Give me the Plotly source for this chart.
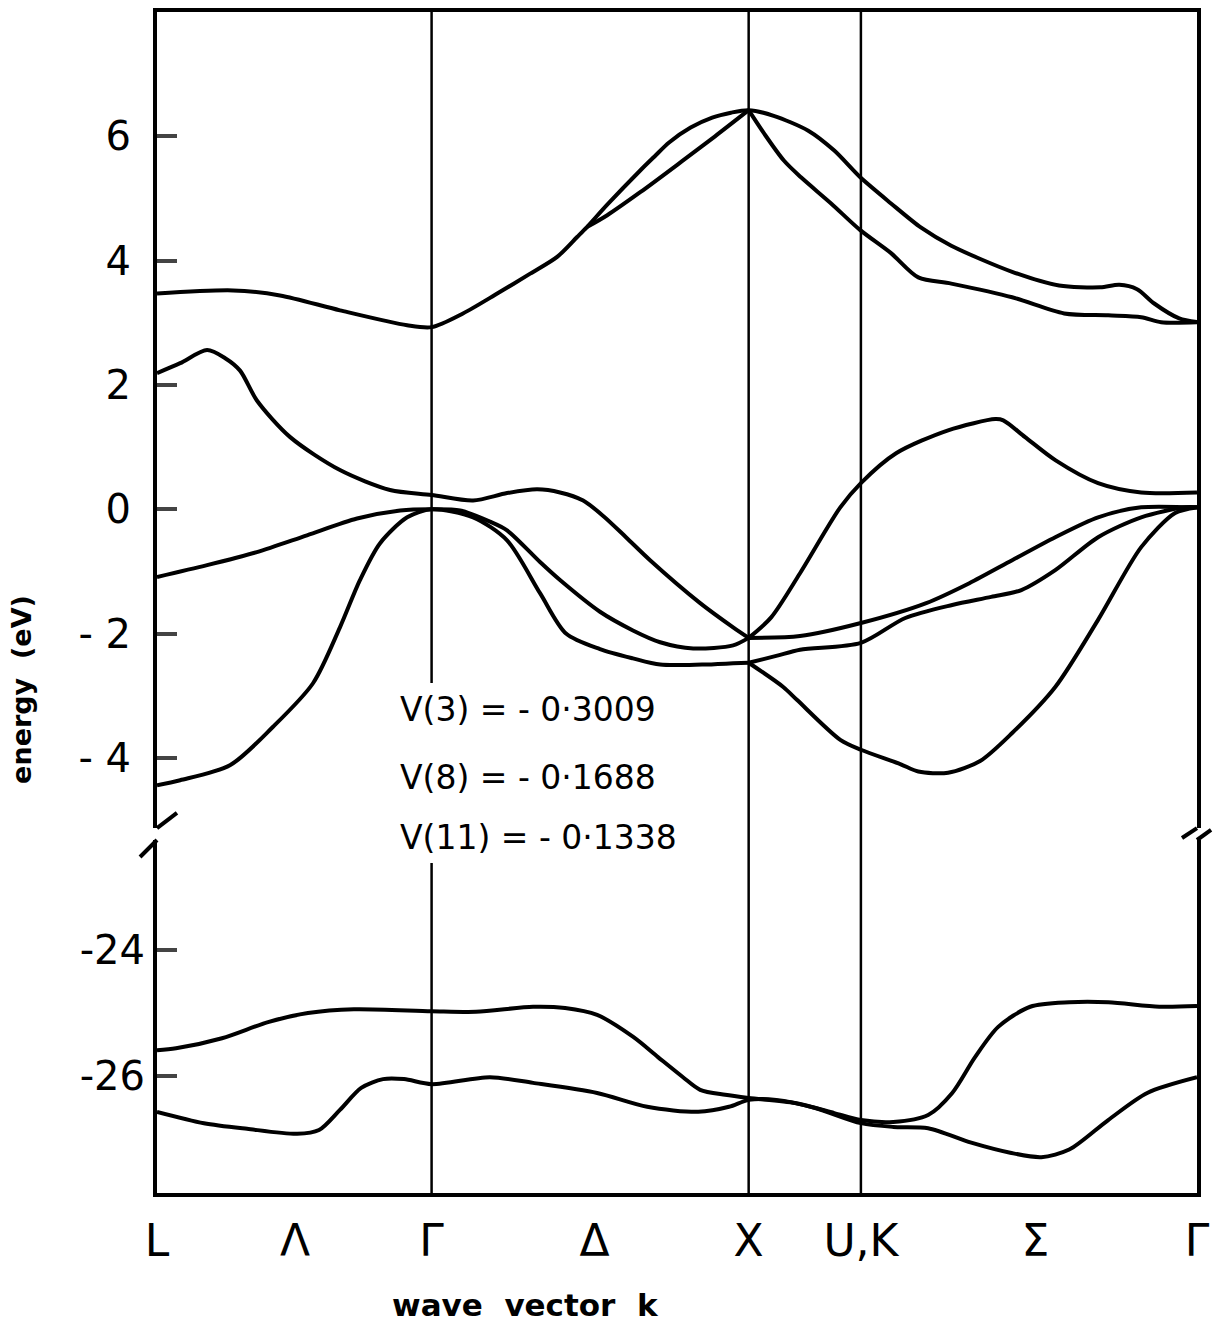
import plotly.graph_objects as go

# k positions along L - Gamma - X - U,K - Gamma (units of 2*pi/a)
sym_k = [0.0, 0.435, 0.866, 1.38, 1.866, 2.220, 2.77, 3.280]
sym_labels = ["L", "Λ", "Γ", "Δ", "X", "U,K", "Σ", "Γ"]
vline_k = [0.866, 1.866, 2.220]
X_K = 1.866

# upper panel: valence + conduction bands (eV)
c1_k = [0, 0.240, 0.388, 0.577, 0.789, 0.866, 0.965, 1.073, 1.177, 1.262, 1.325, 1.356,
        1.420, 1.524, 1.570, 1.615, 1.683, 1.751, 1.810, 1.866, 1.945, 2.054, 2.136,
        2.218, 2.315, 2.410, 2.505, 2.697, 2.845, 2.975, 3.035, 3.091, 3.145, 3.224, 3.280]
c1_e = [3.47, 3.52, 3.44, 3.20, 2.96, 2.93, 3.15, 3.47, 3.79, 4.06, 4.38, 4.54,
        4.90, 5.45, 5.68, 5.90, 6.14, 6.30, 6.38, 6.42, 6.33, 6.09, 5.77,
        5.34, 4.92, 4.53, 4.24, 3.82, 3.60, 3.57, 3.61, 3.54, 3.31, 3.07, 3.01]

c2_k = [1.356, 1.420, 1.524, 1.656, 1.760, 1.866, 1.914, 1.977, 2.031, 2.126, 2.218,
        2.315, 2.401, 2.505, 2.697, 2.861, 3.000, 3.104, 3.167, 3.280]
c2_e = [4.54, 4.73, 5.10, 5.60, 6.00, 6.42, 6.05, 5.61, 5.34, 4.92, 4.49,
        4.12, 3.73, 3.63, 3.41, 3.15, 3.12, 3.09, 3.01, 3.01]

c3_k = [0, 0.073, 0.158, 0.215, 0.262, 0.315, 0.420, 0.577, 0.735, 0.866, 0.997, 1.104,
        1.199, 1.271, 1.344, 1.410, 1.479, 1.555, 1.713, 1.817, 1.866, 1.937, 2.028,
        2.155, 2.220, 2.331, 2.495, 2.644, 2.669, 2.738, 2.833, 2.968, 3.104, 3.280]
c3_e = [2.19, 2.35, 2.56, 2.43, 2.23, 1.75, 1.16, 0.63, 0.31, 0.23, 0.14, 0.26,
        0.32, 0.27, 0.14, -0.12, -0.45, -0.82, -1.51, -1.90, -2.07, -1.74, -1.03,
        0.03, 0.42, 0.90, 1.27, 1.45, 1.43, 1.16, 0.79, 0.42, 0.27, 0.27]

v1_k = [0, 0.158, 0.315, 0.473, 0.631, 0.767, 0.866, 0.956, 1.050, 1.104, 1.208, 1.271,
        1.397, 1.501, 1.587, 1.691, 1.817, 1.866, 2.028, 2.220, 2.426, 2.562,
        2.697, 2.833, 2.968, 3.104, 3.265, 3.280]
v1_e = [-1.09, -0.90, -0.69, -0.42, -0.15, -0.02, 0.0, -0.02, -0.20, -0.34, -0.85, -1.14,
        -1.65, -1.95, -2.14, -2.24, -2.19, -2.07, -2.04, -1.83, -1.51, -1.19,
        -0.82, -0.45, -0.13, 0.03, 0.03, 0.03]

v2_k = [0, 0.073, 0.230, 0.366, 0.492, 0.577, 0.640, 0.703, 0.789, 0.866, 0.997, 1.104,
        1.208, 1.290, 1.397, 1.501, 1.587, 1.719, 1.817, 1.866, 1.953, 2.028, 2.220,
        2.360, 2.508, 2.631, 2.726, 2.833, 2.968, 3.104, 3.240, 3.280]
v2_e = [-4.44, -4.36, -4.12, -3.50, -2.80, -1.90, -1.14, -0.55, -0.13, 0.0, -0.13, -0.50,
        -1.35, -2.00, -2.25, -2.40, -2.50, -2.50, -2.48, -2.47, -2.36, -2.26, -2.15,
        -1.75, -1.54, -1.41, -1.30, -0.98, -0.45, -0.13, 0.03, 0.03]

v3_k = [1.866, 1.975, 2.019, 2.155, 2.220, 2.344, 2.401, 2.495, 2.596, 2.697, 2.833,
        2.968, 3.104, 3.211, 3.280]
v3_e = [-2.47, -2.86, -3.07, -3.71, -3.87, -4.10, -4.22, -4.24, -4.05, -3.60, -2.86,
        -1.78, -0.61, -0.06, 0.03]

# lower panel: deep bands (eV)
d1_k = [0, 0.060, 0.205, 0.353, 0.476, 0.621, 0.866, 1.006, 1.186, 1.287, 1.388, 1.502,
        1.580, 1.659, 1.713, 1.792, 1.866, 2.013, 2.136, 2.220, 2.322, 2.432, 2.508,
        2.580, 2.653, 2.754, 2.877, 3.000, 3.161, 3.280]
d1_e = [-25.59, -25.56, -25.40, -25.14, -25.00, -24.94, -24.97, -24.98, -24.90, -24.92,
        -25.03, -25.38, -25.70, -26.02, -26.22, -26.30, -26.35, -26.43, -26.59, -26.70,
        -26.73, -26.62, -26.27, -25.70, -25.22, -24.90, -24.83, -24.83, -24.90, -24.89]

d2_k = [0, 0.148, 0.284, 0.442, 0.511, 0.577, 0.644, 0.713, 0.779, 0.866, 1.050, 1.186,
        1.388, 1.546, 1.707, 1.804, 1.866, 1.953, 2.076, 2.220, 2.322, 2.432, 2.568,
        2.691, 2.789, 2.877, 3.000, 3.123, 3.280]
d2_e = [-26.57, -26.75, -26.84, -26.92, -26.86, -26.54, -26.19, -26.05, -26.05, -26.13,
        -26.02, -26.11, -26.27, -26.49, -26.57, -26.49, -26.38, -26.38, -26.51, -26.75,
        -26.81, -26.83, -27.06, -27.22, -27.29, -27.17, -26.70, -26.27, -26.02]

upper_ticks = [-4, -2, 0, 2, 4, 6]
upper_ticktext = ["- 4", "- 2", "0", "2", "4", "6"]
lower_ticks = [-26, -24]
lower_ticktext = ["-26", "-24"]

pot_text = ["V(3) = - 0·3009", "V(8) = - 0·1688", "V(11) = - 0·1338"]

FONT = "DejaVu Sans"


def band(fig, k, e, upper, cusp=None):
    # a cusp point splits the curve so the spline keeps the sharp corner
    pieces = [(k, e)]
    if cusp is not None and cusp in k:
        i = k.index(cusp)
        pieces = [(k[:i + 1], e[:i + 1]), (k[i:], e[i:])]
    for pk, pe in pieces:
        fig.add_trace(go.Scatter(
            x=pk, y=pe, mode="lines",
            xaxis="x2" if upper else "x", yaxis="y2" if upper else "y",
            line=dict(color="black", width=4, shape="spline", smoothing=0.8),
            hoverinfo="skip", showlegend=False,
        ))


def main():
    fig = go.Figure()
    band(fig, c1_k, c1_e, True)
    band(fig, c2_k, c2_e, True, X_K)
    band(fig, c3_k, c3_e, True, X_K)
    band(fig, v1_k, v1_e, True, X_K)
    band(fig, v2_k, v2_e, True, X_K)
    band(fig, v3_k, v3_e, True)
    band(fig, d1_k, d1_e, False)
    band(fig, d2_k, d2_e, False)

    frame = dict(showline=True, linecolor="black", linewidth=4, showgrid=False,
                 zeroline=False, automargin=False)
    fig.update_layout(
        width=1213, height=1344,
        margin=dict(l=157, r=16, t=12, b=151),
        paper_bgcolor="white", plot_bgcolor="white",
        font=dict(family=FONT, color="black"),
        xaxis=dict(**frame, anchor="y", domain=[0, 1], range=[0, 3.280],
                   tickmode="array", tickvals=sym_k, ticktext=sym_labels,
                   ticks="", ticklabelstandoff=6, tickfont=dict(size=44)),
        xaxis2=dict(**frame, anchor="y2", matches="x", side="top",
                    showticklabels=False, ticks=""),
        yaxis=dict(**frame, mirror=True, anchor="x", domain=[0, 0.2989],
                   range=[-27.86, -22.25], tickmode="array", tickvals=lower_ticks,
                   ticktext=lower_ticktext, ticks="inside", ticklen=20, tickwidth=4,
                   ticklabelstandoff=0, tickfont=dict(size=40)),
        yaxis2=dict(**frame, mirror=True, anchor="x2", domain=[0.309, 1],
                    range=[-5.13, 8.0], tickmode="array", tickvals=upper_ticks,
                    ticktext=upper_ticktext, ticks="inside", ticklen=20, tickwidth=4,
                    ticklabelstandoff=14, tickfont=dict(size=40)),
    )

    # vertical symmetry lines (Gamma interrupted by the potential text)
    vl = dict(type="line", xref="x", yref="paper", layer="below",
              line=dict(color="black", width=2.5))
    fig.add_shape(**vl, x0=vline_k[0], x1=vline_k[0], y0=0, y1=0.2794)
    fig.add_shape(**vl, x0=vline_k[0], x1=vline_k[0], y0=0.4318, y1=1)
    for k in vline_k[1:]:
        fig.add_shape(**vl, x0=k, x1=k, y0=0, y1=1)

    # axis break marks
    bm = dict(type="line", xref="paper", yref="paper", line=dict(color="black", width=4))
    fig.add_shape(**bm, x0=0, y0=0.309, x1=0.0192, y1=0.3218)
    fig.add_shape(**bm, x0=0, y0=0.2989, x1=-0.0163, y1=0.2845)
    fig.add_shape(**bm, x0=1, y0=0.309, x1=0.9856, y1=0.3006)
    fig.add_shape(**bm, x0=1, y0=0.2989, x1=1.0135, y1=0.3074)

    for txt, yp in zip(pot_text, [0.409, 0.3514, 0.3014]):
        fig.add_annotation(text=txt, xref="paper", yref="paper", x=0.2317, y=yp,
                           xanchor="left", yanchor="middle", showarrow=False,
                           font=dict(size=33))

    fig.add_annotation(text="<b>wave  vector  k</b>", xref="paper", yref="paper",
                       x=0.354, y=-0.0948, xanchor="center", yanchor="middle",
                       showarrow=False, font=dict(size=31))
    fig.add_annotation(text="<b>energy  (eV)</b>", xref="paper", yref="paper",
                       x=-0.1298, y=0.426, xanchor="center", yanchor="middle",
                       textangle=-90, showarrow=False, font=dict(size=27))

    fig.write_html("out.html", config={"displayModeBar": False},
                   post_script="document.body.style.margin = '0';")


if __name__ == "__main__":
    main()
